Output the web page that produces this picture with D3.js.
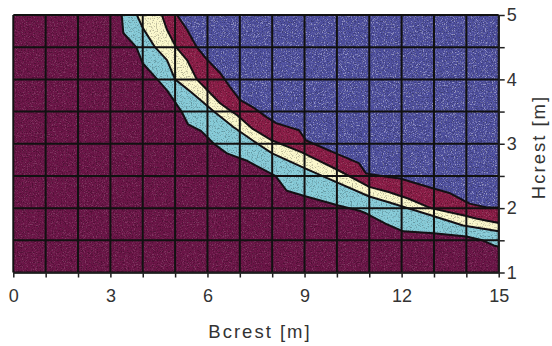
<!DOCTYPE html>
<html>
<head>
<meta charset="utf-8">
<script src="https://cdn.jsdelivr.net/npm/d3@7"></script>
<style>
  html, body { margin: 0; padding: 0; background: #ffffff; }
  svg { display: block; }
  .tick text { font-family: "Liberation Sans", Arial, sans-serif; font-size: 18px; fill: #333; }
</style>
</head>
<body>
<svg id="chart" width="552" height="346"></svg>
<script>
// ---- data ----
const xDomain = [0, 15];
const yDomain = [1, 5];
const xTickValues = d3.range(0, 16, 1);
const xTickLabels = [0, 3, 6, 9, 12, 15];
const yTickValues = d3.range(1, 5.01, 0.5);
const yTickLabels = [1, 2, 3, 4, 5];
const xTitle = "Bcrest [m]";
const yTitle = "Hcrest [m]";

// contour boundaries (x = Bcrest, y = Hcrest)
// A: dark maroon | light blue
const edgeAX = [3.30, 3.35, 3.40, 3.80, 4.00, 4.45, 4.75, 5.20, 5.40, 5.80, 6.20, 6.60, 7.20, 8.10, 8.45, 9.05, 10.05, 10.70, 10.90, 11.50, 12.05, 13.00, 14.00, 14.50, 14.85, 15.00];
const edgeAY = [5.10, 5.00, 4.72, 4.50, 4.25, 4.00, 3.83, 3.50, 3.30, 3.20, 3.00, 2.85, 2.74, 2.50, 2.27, 2.18, 2.04, 1.96, 1.92, 1.76, 1.64, 1.61, 1.56, 1.50, 1.42, 1.40];
// B: light blue | cream
const edgeBX = [3.78, 3.82, 4.00, 4.38, 4.75, 5.00, 5.50, 6.20, 6.80, 7.40, 8.00, 9.00, 10.00, 11.00, 11.60, 12.90, 13.90, 15.00];
const edgeBY = [5.10, 5.00, 4.80, 4.50, 4.30, 4.00, 3.80, 3.50, 3.26, 3.05, 2.85, 2.62, 2.40, 2.18, 2.09, 1.89, 1.73, 1.64];
// C: cream | maroon
const edgeCX = [4.55, 4.59, 4.75, 5.03, 5.37, 5.67, 6.00, 6.39, 6.75, 6.90, 7.40, 8.00, 8.90, 10.00, 11.00, 11.60, 12.20, 12.90, 13.90, 14.30, 15.00];
const edgeCY = [5.10, 5.00, 4.77, 4.50, 4.30, 4.00, 3.83, 3.63, 3.50, 3.45, 3.23, 3.05, 2.87, 2.60, 2.33, 2.25, 2.15, 2.00, 1.89, 1.84, 1.77];
// D: maroon | blue
const edgeDX = [5.02, 5.06, 5.37, 5.67, 6.00, 6.39, 6.70, 7.00, 7.40, 7.84, 8.12, 8.83, 9.05, 9.97, 10.68, 10.90, 11.64, 11.95, 12.88, 13.50, 14.10, 14.64, 15.00];
const edgeDY = [5.10, 5.00, 4.77, 4.50, 4.30, 4.10, 3.88, 3.68, 3.57, 3.41, 3.32, 3.21, 3.05, 2.85, 2.70, 2.54, 2.48, 2.46, 2.32, 2.23, 2.07, 2.01, 2.01];

const bandColors = ["#86cbd8", "#fbf8cc", "#8a1c46", "#4e4f9e"];
const baseColor = "#6b1547";

// ---- layout ----
const svg = d3.select("#chart");
const x = d3.scaleLinear(xDomain, [13.3, 498.7]);
const y = d3.scaleLinear(yDomain, [272.5, 15]);
const W = x(15) - x(0), H = y(1) - y(5);

const defs = svg.append("defs");
defs.append("clipPath").attr("id", "plotClip")
  .append("rect").attr("x", x(0)).attr("y", y(5)).attr("width", W).attr("height", H);

const fw = defs.append("filter").attr("id", "speckW").attr("x", 0).attr("y", 0).attr("width", 1).attr("height", 1);
fw.append("feTurbulence").attr("type", "fractalNoise").attr("baseFrequency", 0.9).attr("numOctaves", 2).attr("seed", 4);
fw.append("feColorMatrix").attr("type", "matrix")
  .attr("values", "0 0 0 0 1  0 0 0 0 1  0 0 0 0 1  5 0 0 0 -2.7");
const fb = defs.append("filter").attr("id", "speckB").attr("x", 0).attr("y", 0).attr("width", 1).attr("height", 1);
fb.append("feTurbulence").attr("type", "fractalNoise").attr("baseFrequency", 0.8).attr("numOctaves", 2).attr("seed", 11);
fb.append("feColorMatrix").attr("type", "matrix")
  .attr("values", "0 0 0 0 0  0 0 0 0 0  0 0 0 0 0  -5 0 0 0 2.4");

const plot = svg.append("g").attr("clip-path", "url(#plotClip)");
plot.append("rect").attr("x", x(0)).attr("y", y(5)).attr("width", W).attr("height", H)
  .attr("fill", baseColor);

const edges = [
  d3.zip(edgeAX, edgeAY),
  d3.zip(edgeBX, edgeBY),
  d3.zip(edgeCX, edgeCY),
  d3.zip(edgeDX, edgeDY)
];

const line = d3.line().x(d => x(d[0])).y(d => y(d[1]));
const regionPath = pts => {
  const last = pts[pts.length - 1];
  const first = pts[0];
  return line(pts.concat([[15.3, last[1]], [15.3, 5.3], [first[0], 5.3]])) + "Z";
};

edges.forEach((pts, i) => {
  plot.append("path").attr("d", regionPath(pts)).attr("fill", bandColors[i]);
});

// speckle texture (stronger on the blue field)
defs.append("clipPath").attr("id", "blueClip").append("path").attr("d", regionPath(edges[3]));
plot.append("rect").attr("x", x(0)).attr("y", y(5)).attr("width", W).attr("height", H)
  .attr("filter", "url(#speckW)").attr("opacity", 0.15);
plot.append("g").attr("clip-path", "url(#blueClip)")
  .append("rect").attr("x", x(0)).attr("y", y(5)).attr("width", W).attr("height", H)
  .attr("filter", "url(#speckW)").attr("opacity", 0.3);
plot.append("rect").attr("x", x(0)).attr("y", y(5)).attr("width", W).attr("height", H)
  .attr("filter", "url(#speckB)").attr("opacity", 0.25);

// boundary outlines
edges.forEach(pts => {
  plot.append("path").attr("d", line(pts)).attr("fill", "none")
    .attr("stroke", "#141014").attr("stroke-width", 2).attr("stroke-linejoin", "round");
});

// grid
const grid = svg.append("g");
grid.selectAll("line.v").data(xTickValues).join("line")
  .attr("x1", d => x(d)).attr("x2", d => x(d)).attr("y1", y(5)).attr("y2", y(1))
  .attr("stroke", "#111").attr("stroke-width", 2);
grid.selectAll("line.h").data(yTickValues).join("line")
  .attr("x1", x(0)).attr("x2", x(15)).attr("y1", d => y(d)).attr("y2", d => y(d))
  .attr("stroke", "#111").attr("stroke-width", 2);

// axes
const xAxis = d3.axisBottom(x).tickValues(xTickValues)
  .tickFormat(d => xTickLabels.includes(d) ? d : "")
  .tickSize(5).tickSizeOuter(0).tickPadding(12);
const gx = svg.append("g").attr("transform", `translate(0,${y(1)})`).call(xAxis);
gx.select(".domain").attr("stroke", "#222").attr("stroke-width", 1.5);
gx.selectAll(".tick line").attr("stroke", "#222").attr("stroke-width", 1.5);

const yAxis = d3.axisRight(y).tickValues(yTickValues)
  .tickFormat(d => yTickLabels.includes(d) ? d : "")
  .tickSize(6).tickSizeOuter(0).tickPadding(2);
const gy = svg.append("g").attr("transform", `translate(${x(15)},0)`).call(yAxis);
gy.select(".domain").attr("stroke", "#222").attr("stroke-width", 1.5);
gy.selectAll(".tick line").attr("stroke", "#222").attr("stroke-width", 1.5);

// titles
svg.append("text").attr("x", 260).attr("y", 338).attr("text-anchor", "middle")
  .attr("font-family", "Liberation Sans, Arial, sans-serif").attr("font-size", 18.5)
  .attr("letter-spacing", 2).attr("fill", "#333").text(xTitle);
svg.append("text").attr("transform", "translate(545,147) rotate(-90)").attr("text-anchor", "middle")
  .attr("font-family", "Liberation Sans, Arial, sans-serif").attr("font-size", 18.5)
  .attr("letter-spacing", 2).attr("fill", "#333").text(yTitle);
</script>
</body>
</html>
